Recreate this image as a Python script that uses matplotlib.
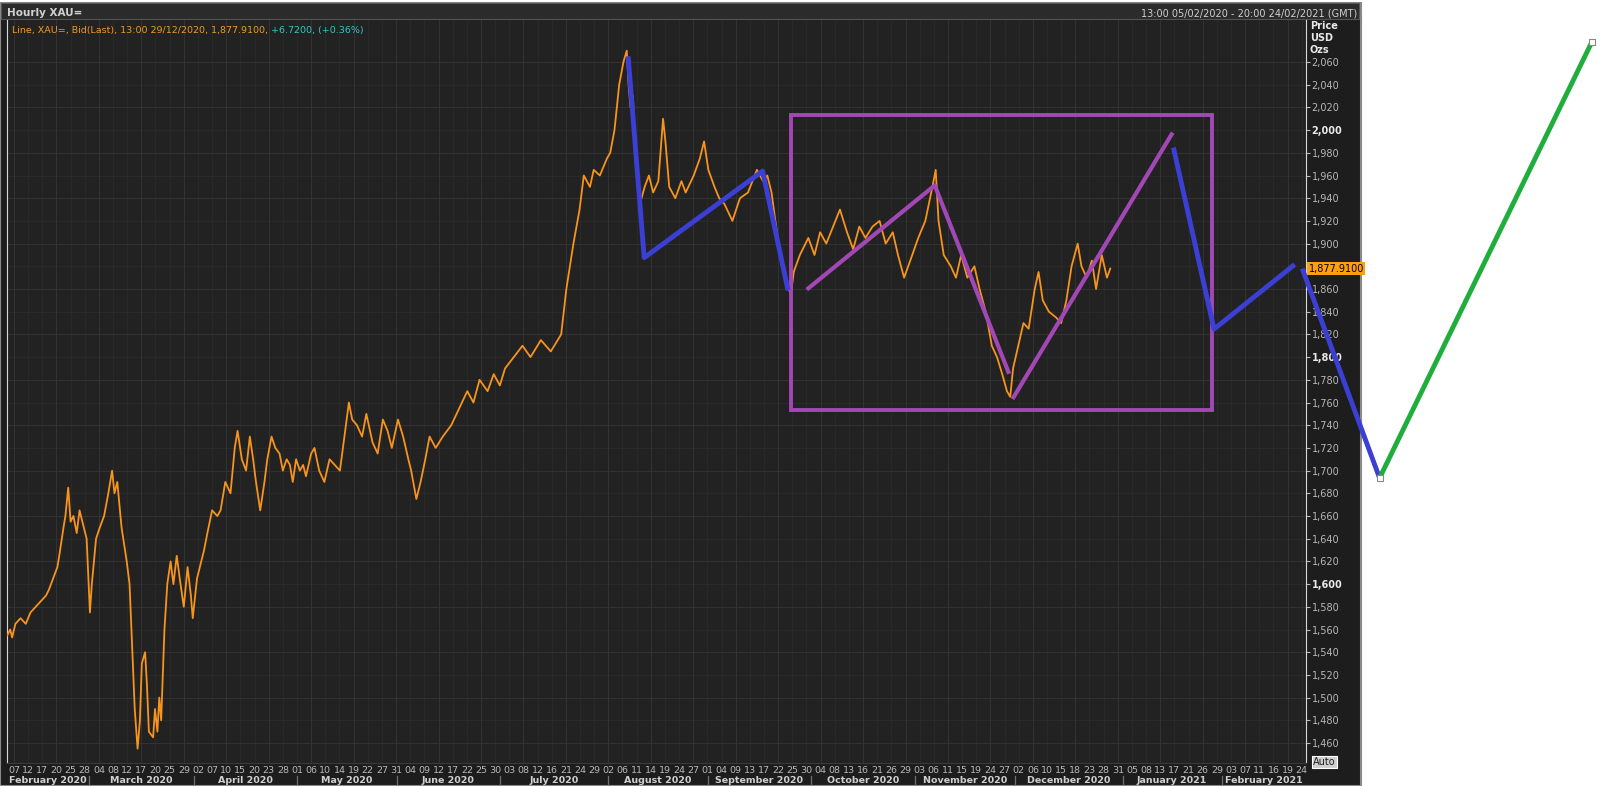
import numpy as np
import matplotlib.pyplot as plt
import matplotlib.transforms as mtransforms
from matplotlib.patches import Rectangle

# Hourly XAU= (trading day index since 05/02/2020, USD/oz)
price_day = [0.1, 0.7, 1.1, 1.8, 2.9, 4.0, 5.0, 6.1, 7.2, 8.3, 8.9, 9.8, 10.7, 11.1, 12.0,
             12.4, 13.0, 13.5, 14.1, 14.8, 15.4, 16.3, 16.9, 17.6, 18.0, 18.9, 19.7, 20.6,
             21.5, 22.3, 22.8, 23.4, 24.3, 25.4, 26.0, 26.4, 27.1, 27.7, 28.2, 28.6, 29.3,
             29.7, 30.1, 31.0, 31.4, 31.9, 32.3, 32.7, 33.4, 34.0, 34.7, 35.3, 36.0, 36.8,
             37.5, 38.3, 39.0, 39.4, 40.3, 41.2, 41.8, 42.5, 43.5, 44.6, 45.3, 46.3, 47.4,
             48.3, 48.9, 49.8, 50.7, 51.5, 52.2, 52.8, 53.7, 54.6, 55.2, 56.1, 56.9, 57.8,
             58.5, 59.3, 60.0, 60.6, 61.3, 62.1, 62.8, 63.4, 64.5, 65.2, 66.2, 67.3, 68.4,
             69.5, 70.6, 71.7, 72.5, 73.2, 74.2, 75.3, 76.2, 77.5, 78.6, 79.7, 80.7, 81.6,
             82.9, 84.0, 85.1, 85.7, 86.8, 87.7, 88.7, 89.6, 90.9, 92.4, 94.2, 95.9, 97.6,
             98.9, 100.2, 101.9, 103.2, 104.5, 105.6, 109.3, 111.0, 113.2, 115.3, 117.5,
             118.6, 120.1, 121.4, 122.3, 123.6, 124.4, 125.7, 127.2, 127.9, 128.8, 129.8,
             130.7, 131.4, 131.8, 132.2, 132.7, 133.5, 134.2, 135.2, 136.1, 137.0, 138.1,
             139.1, 139.6, 140.4, 141.7, 143.0, 143.9, 145.6, 146.9, 147.8, 148.7, 150.0,
             151.0, 152.1, 153.8, 155.4, 157.1, 159.0, 160.3, 161.2, 162.1, 162.9, 163.6,
             164.4, 165.3, 166.2, 166.8, 168.1, 169.9, 171.2, 172.4, 173.7, 176.6, 178.1,
             179.4, 180.7, 182.0, 183.5, 185.0, 186.3, 187.8, 188.9, 190.2, 191.5, 193.2,
             194.7, 196.2, 196.9, 197.5, 198.6, 200.1, 201.2, 202.3, 203.6, 205.1, 206.2,
             207.5, 208.8, 209.9, 211.0, 212.0, 212.7, 213.3, 214.4, 215.5, 216.6, 217.9,
             218.7, 219.6, 220.9, 222.4, 223.5, 224.6, 225.7, 227.0, 227.8, 228.9, 230.0,
             230.9, 232.1, 233.2, 233.9]
price_usd = [1555, 1560, 1553, 1565, 1570, 1565, 1575, 1580, 1585, 1590, 1595, 1605, 1615,
             1625, 1650, 1660, 1685, 1655, 1660, 1645, 1665, 1650, 1640, 1575, 1600, 1640,
             1650, 1660, 1680, 1700, 1680, 1690, 1650, 1620, 1600, 1560, 1490, 1455, 1480,
             1530, 1540, 1510, 1470, 1465, 1490, 1470, 1500, 1480, 1560, 1600, 1620, 1600,
             1625, 1600, 1580, 1615, 1590, 1570, 1605, 1620, 1630, 1645, 1665, 1660, 1665,
             1690, 1680, 1720, 1735, 1710, 1700, 1730, 1710, 1690, 1665, 1690, 1710, 1730,
             1720, 1715, 1700, 1710, 1705, 1690, 1710, 1700, 1705, 1695, 1715, 1720, 1700,
             1690, 1710, 1705, 1700, 1735, 1760, 1745, 1740, 1730, 1750, 1725, 1715, 1745,
             1735, 1720, 1745, 1730, 1710, 1700, 1675, 1690, 1710, 1730, 1720, 1730, 1740,
             1755, 1770, 1760, 1780, 1770, 1785, 1775, 1790, 1810, 1800, 1815, 1805, 1820,
             1860, 1900, 1930, 1960, 1950, 1965, 1960, 1975, 1980, 2000, 2040, 2060, 2070,
             2040, 2020, 2030, 1960, 1935, 1950, 1960, 1945, 1955, 2010, 1990, 1950, 1940,
             1955, 1945, 1960, 1975, 1990, 1965, 1950, 1940, 1935, 1920, 1940, 1945, 1965,
             1955, 1960, 1945, 1920, 1900, 1880, 1865, 1855, 1875, 1890, 1905, 1890, 1910,
             1900, 1930, 1910, 1895, 1915, 1905, 1915, 1920, 1900, 1910, 1890, 1870, 1885,
             1905, 1920, 1950, 1965, 1920, 1890, 1880, 1870, 1890, 1870, 1880, 1860, 1840,
             1810, 1800, 1785, 1770, 1765, 1790, 1810, 1830, 1825, 1860, 1875, 1850, 1840,
             1835, 1830, 1850, 1880, 1900, 1880, 1870, 1885, 1860, 1890, 1870, 1878]
last_price = 1877.91

# hand drawn trend lines
blue_a_day = [131.7, 135.1, 160.2, 165.6]
blue_a_usd = [2065, 1887.6, 1963.9, 1858.8]
blue_b_day = [247.3, 255.9, 273.0]
blue_b_usd = [1984.6, 1824.7, 1881.6]
blue_c_day = [274.6, 291.0]
blue_c_usd = [1878, 1693.5]
green_day = [291.0, 336.0]
green_usd = [1693.5, 2077.6]
purple_a_day = [169.9, 196.7, 212.3]
purple_a_usd = [1860.6, 1951.3, 1787]
purple_b_day = [213.4, 246.9]
purple_b_usd = [1764.6, 1996.2]
box_day = [166.2, 255.5]
box_usd = [1753, 2013.3]

day_labels = ["07", "12", "17", "20", "25", "28",
              "04", "08", "12", "17", "20", "25", "29",
              "02", "07", "10", "15", "20", "23", "28",
              "01", "06", "10", "14", "19", "22", "27", "31",
              "04", "09", "12", "17", "22", "25", "30",
              "03", "08", "12", "16", "21", "24", "29",
              "02", "06", "11", "14", "19", "24", "27",
              "01", "04", "09", "13", "17", "22", "25", "30",
              "04", "08", "13", "16", "21", "26", "29",
              "03", "06", "11", "15", "19", "24", "27",
              "02", "06", "10", "15", "18", "23", "28", "31",
              "05", "08", "13", "17", "21", "26", "29",
              "03", "07", "11", "16", "19", "24"]
month_names = ["February 2020", "March 2020", "April 2020", "May 2020", "June 2020",
               "July 2020", "August 2020", "September 2020", "October 2020",
               "November 2020", "December 2020", "January 2021", "February 2021"]
month_starts = [17.5, 39.6, 61.6, 82.6, 104.5, 127.4, 148.6, 170.4, 192.5, 213.7, 236.5, 257.5]

W, H = 1600, 786
fig = plt.figure(figsize=(16, 7.86), dpi=100)
fig.patch.set_facecolor("white")

# terminal panel + header strip
fig.add_artist(Rectangle((0, 0), 1361 / W, 783 / H, transform=fig.transFigure,
                         fc="#1d1d1d", ec="#8a8a8a", lw=1.5, zorder=0))
fig.add_artist(Rectangle((1 / W, 1 - 19 / H), 1358 / W, 16 / H, transform=fig.transFigure,
                         fc="#2b2b2b", ec="#555555", lw=0.8, zorder=0))
fig.text(7 / W, 1 - 13 / H, "Hourly XAU=", color="#d0d0d0", fontsize=7.5,
         fontweight="bold", va="center")
fig.text(1357 / W, 1 - 13 / H, "13:00 05/02/2020 - 20:00 24/02/2021 (GMT)",
         color="#d0d0d0", fontsize=7, ha="right", va="center")

ax = fig.add_axes([7 / W, 23 / H, 1299 / W, 743 / H])
ax.set_facecolor("#222222")
ax.set_xlim(0.02, 275.4)
ax.set_ylim(1442.4, 2097)

ax.plot(price_day, price_usd, color="#f7941d", lw=1.3, zorder=3)

kw = dict(lw=3.5, clip_on=False, zorder=6, solid_capstyle="butt")
ax.plot(blue_a_day, blue_a_usd, color="#3b3fd4", **kw)
ax.plot(blue_b_day, blue_b_usd, color="#3b3fd4", **kw)
ax.plot(blue_c_day, blue_c_usd, color="#3b3fd4", **kw)
ax.plot(green_day, green_usd, color="#1fae3c", **kw)
ax.plot(green_day, green_usd, ls="none", marker="s", ms=4, mfc="white", mec="#888888",
        mew=0.8, clip_on=False, zorder=7)
ax.plot(purple_a_day, purple_a_usd, color="#a248b6", lw=3, clip_on=False, zorder=5)
ax.plot(purple_b_day, purple_b_usd, color="#a248b6", lw=3, clip_on=False, zorder=5)
ax.add_patch(Rectangle((box_day[0], box_usd[0]), box_day[1] - box_day[0],
                       box_usd[1] - box_usd[0], fill=False, ec="#a248b6", lw=2.8, zorder=5))

# y axis on the right (the 1,880 label sits under the last price tag)
yt = np.arange(1460, 2061, 20)
ax.yaxis.tick_right()
ax.set_yticks(yt)
ax.set_yticklabels(["" if v == 1880 else f"{v:,}" for v in yt])
ax.tick_params(axis="y", colors="#b8b8b8", labelsize=7, length=3, pad=1)
for v, lab in zip(yt, ax.get_yticklabels()):
    if v % 200 == 0:
        lab.set_fontweight("bold")
        lab.set_color("#e8e8e8")

# x axis: trading days, one label every 3 sessions
xt = [1.5 + 3 * i for i in range(len(day_labels))]
ax.set_xticks(xt)
ax.set_xticklabels(day_labels)
ax.tick_params(axis="x", colors="#b8b8b8", labelsize=6.8, length=0, pad=2)

# two level grid
ax.grid(True, color="#2a2a2a", lw=0.7)
ax.set_axisbelow(True)
for x in xt[::3]:
    ax.axvline(x, color="#323232", lw=0.8, zorder=1)
for v in yt[::2]:
    ax.axhline(v, color="#323232", lw=0.8, zorder=1)

ax.spines["top"].set_visible(False)
ax.spines["left"].set_color("#d8d8d8")
ax.spines["right"].set_color("#d8d8d8")
ax.spines["bottom"].set_color("#3a3a3a")

# month band
trans = mtransforms.blended_transform_factory(ax.transData, ax.transAxes)
edges = [0.02] + month_starts + [275.4]
for i, name in enumerate(month_names):
    ax.text((edges[i] + edges[i + 1]) / 2, -0.0235, name, transform=trans, ha="center",
            va="center", color="#d0d0d0", fontsize=6.8, fontweight="bold", clip_on=False)
for m in month_starts:
    ax.plot([m, m], [-0.018, -0.04], transform=trans, color="#707070", lw=0.9,
            clip_on=False)

# legend line in the plot
leg = ax.text(0.004, 0.992, "Line, XAU=, Bid(Last), 13:00 29/12/2020, 1,877.9100, ",
              transform=ax.transAxes, color="#f29a1e", fontsize=6.8, va="top")
ax.annotate("+6.7200, (+0.36%)", xy=(1, 0), xycoords=leg, va="bottom",
            color="#35c6c6", fontsize=6.8)

# axis header and last price tag
for i, t in enumerate(["Price", "USD", "Ozs"]):
    fig.text(1310 / W, 1 - (26 + 12 * i) / H, t, color="#e8e8e8", fontsize=7,
             fontweight="bold", va="center")
ytrans = mtransforms.blended_transform_factory(ax.transAxes, ax.transData)
ax.text(1.002, last_price, f"{last_price:,.4f}", transform=ytrans, color="black",
        fontsize=7, va="center", clip_on=False, zorder=8,
        bbox=dict(boxstyle="square,pad=0.15", fc="#ff9f0f", ec="none"))
fig.text(1313 / W, 1 - 762 / H, "Auto", color="#222222", fontsize=7, va="center",
         bbox=dict(boxstyle="square,pad=0.1", fc="#cfcfcf", ec="white", lw=0.8))

fig.savefig("out.png", dpi=100, facecolor="white")
